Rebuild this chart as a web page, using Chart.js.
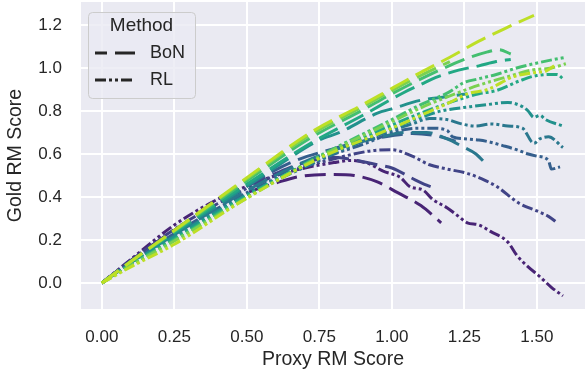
<!DOCTYPE html>
<html lang="en">
<head>
<meta charset="UTF-8">
<title>Gold vs proxy RM score</title>
<style>
  body { margin: 0; background: #fff; }
  canvas { display: block; }
</style>
</head>
<body>
<canvas id="overopt" width="586" height="375"></canvas>
<script src="https://cdn.jsdelivr.net/npm/chart.js"></script>
<script>
// viridis, one colour per reward model size (smallest first)
const sizeColors = ['#482475', '#414487', '#355f8d', '#2a788e', '#21918c', '#22a884', '#44bf70', '#7ad151', '#bddf26'];

const xTicks = [0, 0.25, 0.5, 0.75, 1.0, 1.25, 1.5];
const yTicks = [0, 0.2, 0.4, 0.6, 0.8, 1.0, 1.2];
const methods = ['BoN', 'RL'];

// best-of-n runs: [proxy score, gold score]
const bon0 = [[0,0],[0.1,0.105],[0.25,0.245],[0.4,0.365],[0.5,0.42],[0.6,0.465],[0.68,0.495],[0.8,0.505],[0.87,0.5],[0.95,0.47],[1.02,0.42],[1.1,0.36],[1.17,0.28]];
const bon1 = [[0,0],[0.1,0.105],[0.25,0.245],[0.4,0.38],[0.5,0.45],[0.6,0.51],[0.7,0.56],[0.8,0.585],[0.88,0.57],[0.95,0.55],[1.0,0.535],[1.08,0.48],[1.12,0.455],[1.15,0.44]];
const bon2 = [[0,0],[0.1,0.1],[0.25,0.235],[0.5,0.45],[0.66,0.565],[0.8,0.625],[0.9,0.66],[1.0,0.685],[1.07,0.695],[1.15,0.685],[1.22,0.66]];
const bon3 = [[0,0],[0.1,0.095],[0.25,0.225],[0.5,0.43],[0.7,0.565],[0.85,0.64],[0.95,0.675],[1.05,0.7],[1.12,0.7],[1.19,0.67],[1.25,0.63],[1.29,0.6],[1.33,0.545]];
const bon4 = [[0,0],[0.1,0.095],[0.25,0.23],[0.5,0.45],[0.6,0.54],[0.75,0.665],[0.82,0.7],[0.95,0.79],[1.0,0.81],[1.1,0.85],[1.18,0.865],[1.26,0.88]];
const bon5 = [[0,0],[0.1,0.098],[0.25,0.235],[0.5,0.46],[0.72,0.65],[0.9,0.78],[1.04,0.885],[1.11,0.93],[1.15,0.955],[1.23,0.99],[1.3,1.01],[1.36,1.03],[1.41,1.04]];
const bon6 = [[0,0],[0.1,0.1],[0.25,0.24],[0.5,0.475],[0.72,0.675],[0.9,0.805],[1.0,0.88],[1.14,0.975],[1.25,1.04],[1.33,1.075],[1.37,1.085],[1.41,1.065]];
const bon7 = [[0,0],[0.1,0.1],[0.25,0.243],[0.5,0.485],[0.72,0.69],[0.9,0.82],[1.0,0.895],[1.1,0.965],[1.2,1.03]];
const bon8 = [[0,0],[0.1,0.1],[0.25,0.245],[0.5,0.49],[0.72,0.7],[0.9,0.83],[1.0,0.905],[1.1,0.98],[1.2,1.05],[1.3,1.125],[1.4,1.19],[1.49,1.245]];

// RL runs: [proxy score, gold score]
const rl0 = [[0,0],[0.1,0.11],[0.25,0.27],[0.4,0.39],[0.5,0.45],[0.6,0.5],[0.7,0.535],[0.8,0.56],[0.86,0.57],[0.92,0.555],[0.97,0.52],[1.03,0.49],[1.06,0.45],[1.11,0.43],[1.14,0.39],[1.19,0.35],[1.23,0.31],[1.26,0.28],[1.3,0.27],[1.34,0.24],[1.4,0.19],[1.43,0.13],[1.47,0.075],[1.51,0.03],[1.55,-0.02],[1.59,-0.06]];
const rl1 = [[0,0],[0.1,0.105],[0.25,0.25],[0.4,0.37],[0.5,0.44],[0.6,0.5],[0.75,0.56],[0.87,0.6],[0.93,0.615],[1.0,0.62],[1.07,0.59],[1.13,0.55],[1.19,0.53],[1.26,0.51],[1.3,0.49],[1.36,0.45],[1.44,0.37],[1.5,0.335],[1.54,0.31],[1.57,0.28]];
const rl2 = [[0,0],[0.1,0.095],[0.25,0.23],[0.5,0.42],[0.75,0.575],[0.9,0.645],[1.03,0.71],[1.09,0.72],[1.14,0.72],[1.19,0.71],[1.21,0.68],[1.26,0.67],[1.3,0.665],[1.34,0.655],[1.38,0.64],[1.43,0.62],[1.47,0.6],[1.5,0.59],[1.54,0.57],[1.55,0.53],[1.58,0.54]];
const rl3 = [[0,0],[0.1,0.09],[0.25,0.22],[0.5,0.41],[0.75,0.57],[0.9,0.66],[1.0,0.71],[1.07,0.74],[1.13,0.765],[1.19,0.76],[1.24,0.74],[1.29,0.73],[1.34,0.74],[1.4,0.73],[1.45,0.72],[1.49,0.65],[1.51,0.67],[1.54,0.68],[1.59,0.63]];
const rl4 = [[0,0],[0.1,0.09],[0.25,0.215],[0.5,0.41],[0.75,0.58],[1.0,0.72],[1.1,0.77],[1.17,0.8],[1.27,0.82],[1.33,0.83],[1.4,0.84],[1.45,0.82],[1.47,0.8],[1.49,0.77],[1.51,0.78],[1.53,0.76],[1.59,0.73]];
const rl5 = [[0,0],[0.1,0.085],[0.25,0.205],[0.5,0.405],[0.75,0.585],[1.0,0.735],[1.1,0.79],[1.2,0.84],[1.3,0.88],[1.36,0.895],[1.44,0.94],[1.5,0.965],[1.57,0.97],[1.59,0.95]];
const rl6 = [[0,0],[0.1,0.085],[0.25,0.2],[0.5,0.4],[0.75,0.59],[1.0,0.76],[1.1,0.83],[1.2,0.89],[1.245,0.93],[1.3,0.95],[1.36,0.97],[1.43,1.0],[1.49,1.02],[1.56,1.04],[1.6,1.05]];
const rl7 = [[0,0],[0.1,0.08],[0.25,0.195],[0.5,0.395],[0.75,0.585],[1.0,0.75],[1.1,0.815],[1.2,0.87],[1.3,0.92],[1.4,0.96],[1.48,0.99],[1.55,1.0],[1.6,1.02]];
const rl8 = [[0,0],[0.1,0.075],[0.25,0.18],[0.5,0.395],[0.75,0.58],[1.0,0.72],[1.1,0.78],[1.2,0.84],[1.26,0.88],[1.33,0.9],[1.42,0.96],[1.5,0.98],[1.53,0.985],[1.56,1.01]];

const bonRuns = [bon0, bon1, bon2, bon3, bon4, bon5, bon6, bon7, bon8];
const rlRuns = [rl0, rl1, rl2, rl3, rl4, rl5, rl6, rl7, rl8];

const dashes = { BoN: [21, 8], RL: [11, 3, 3, 3, 3, 3] };
const textColor = '#262626';
const fontFamily = '"Liberation Sans", Arial, sans-serif';

function runDataset(points, method, i) {
  return {
    label: method + ' ' + i,
    data: points,
    borderColor: sizeColors[i],
    borderWidth: 3,
    borderDash: dashes[method],
    borderCapStyle: 'butt',
    cubicInterpolationMode: 'monotone',
    pointRadius: 0,
    fill: false
  };
}

// drawn hue by hue, BoN then RL; later lines sit on top
const datasets = [];
for (let i = 0; i < sizeColors.length; i++) {
  datasets.push(runDataset(bonRuns[i], 'BoN', i));
  datasets.push(runDataset(rlRuns[i], 'RL', i));
}
datasets.forEach((ds, k) => { ds.order = datasets.length - k; });

const plotBackground = {
  id: 'plotBackground',
  beforeDraw(chart) {
    const {ctx, chartArea: a} = chart;
    ctx.save();
    ctx.fillStyle = '#eaeaf2';
    ctx.fillRect(a.left, a.top, a.right - a.left, a.bottom - a.top);
    ctx.restore();
  }
};

// legend box in the upper left corner of the axes
const methodLegend = {
  id: 'methodLegend',
  afterDatasetsDraw(chart) {
    const {ctx, chartArea: a} = chart;
    const x = a.left + 7, y = a.top + 10, w = 107, h = 86;
    ctx.save();
    ctx.beginPath();
    ctx.roundRect(x + 0.5, y + 0.5, w, h, 4);
    ctx.fillStyle = 'rgba(234,234,242,0.8)';
    ctx.fill();
    ctx.strokeStyle = '#cccccc';
    ctx.lineWidth = 1;
    ctx.stroke();

    ctx.fillStyle = textColor;
    ctx.textBaseline = 'middle';
    ctx.textAlign = 'center';
    ctx.font = '19px ' + fontFamily;
    ctx.fillText('Method', x + w / 2, y + 14);

    ctx.textAlign = 'left';
    ctx.font = '18px ' + fontFamily;
    methods.forEach((m, k) => {
      const ly = y + 41 + k * 27;
      ctx.beginPath();
      ctx.setLineDash(dashes[m]);
      ctx.lineDashOffset = m === 'BoN' ? 9 : 0;
      ctx.strokeStyle = textColor;
      ctx.lineWidth = 3;
      ctx.lineCap = 'butt';
      ctx.moveTo(x + 7, ly);
      ctx.lineTo(x + 47, ly);
      ctx.stroke();
      ctx.fillText(m, x + 62, ly);
    });
    ctx.restore();
  }
};

// tick marks are invisible; their length only spaces the labels from the axes
const hiddenTicks = len => ({ color: '#ffffff', lineWidth: 2, drawTicks: true, tickLength: len, tickColor: 'rgba(0,0,0,0)' });

new Chart(document.getElementById('overopt'), {
  type: 'line',
  data: { datasets: datasets },
  options: {
    responsive: false,
    animation: false,
    layout: { padding: { top: 2, right: 1, left: 0, bottom: 0 } },
    plugins: { legend: { display: false }, tooltip: { enabled: false } },
    scales: {
      x: {
        type: 'linear',
        min: -0.072,
        max: 1.666,
        afterFit: s => { s.height = 66; s.paddingLeft = 0; s.paddingRight = 0; },
        afterBuildTicks: s => { s.ticks = xTicks.map(v => ({ value: v })); },
        grid: hiddenTicks(18),
        border: { display: false },
        ticks: {
          padding: 0,
          color: textColor,
          font: { family: fontFamily, size: 17 },
          callback: v => v.toFixed(2)
        },
        title: {
          display: true,
          text: 'Proxy RM Score',
          color: textColor,
          font: { family: fontFamily, size: 19.5 },
          padding: { top: 0, bottom: 4 }
        }
      },
      y: {
        min: -0.121,
        max: 1.307,
        afterFit: s => { s.width = 81; s.paddingTop = 0; s.paddingBottom = 0; },
        afterBuildTicks: s => { s.ticks = yTicks.map(v => ({ value: v })); },
        grid: hiddenTicks(19),
        border: { display: false },
        ticks: {
          padding: 0,
          color: textColor,
          font: { family: fontFamily, size: 17 },
          callback: v => v.toFixed(1)
        },
        title: {
          display: true,
          text: 'Gold RM Score',
          color: textColor,
          font: { family: fontFamily, size: 19.5 },
          padding: { top: 4, bottom: 0 }
        }
      }
    }
  },
  plugins: [plotBackground, methodLegend]
});
</script>
</body>
</html>
